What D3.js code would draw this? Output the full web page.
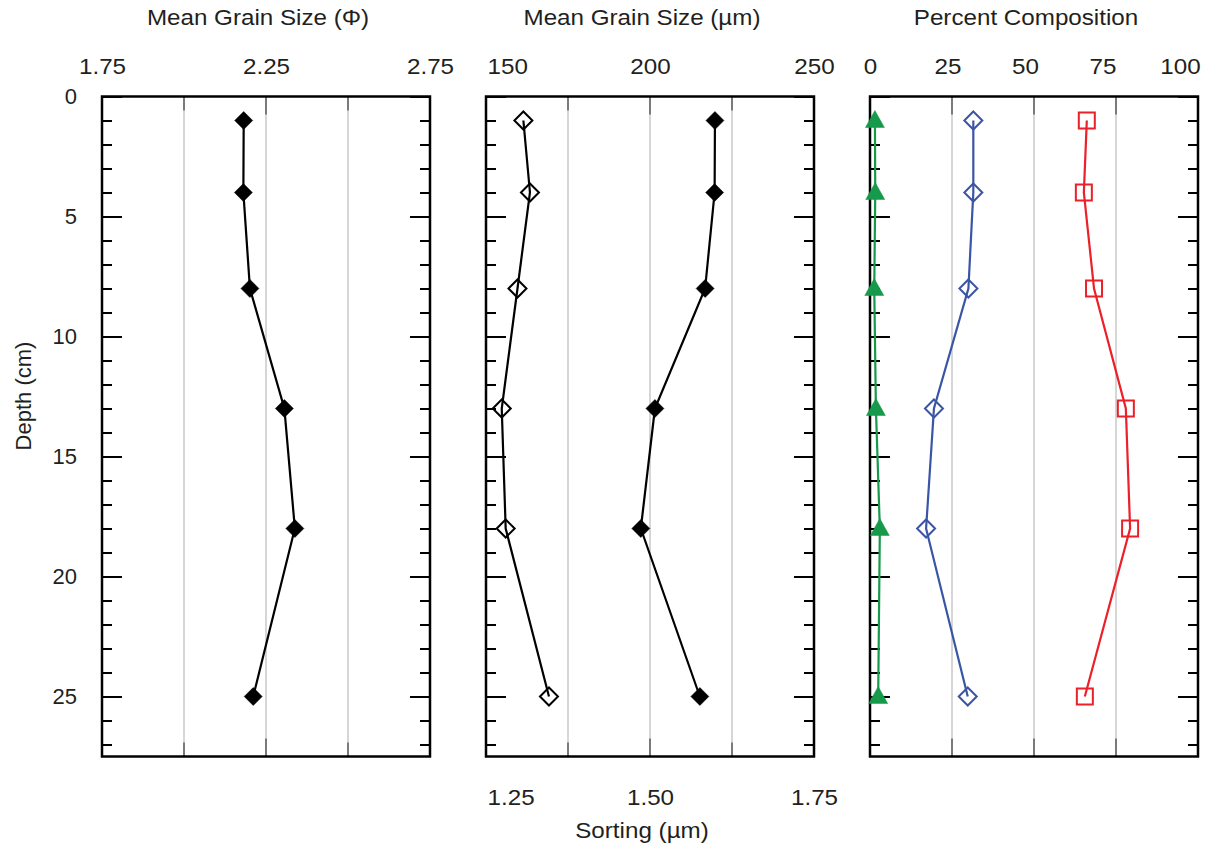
<!DOCTYPE html>
<html><head><meta charset="utf-8">
<script src="https://cdn.jsdelivr.net/npm/d3@7"></script>
<style>
html,body{margin:0;padding:0;background:#fff;}
text{font-family:"Liberation Sans",Arial,sans-serif;fill:#231f20;}
</style></head>
<body>
<svg id="chart" width="1207" height="852"></svg>
<script>
// ---- data ----
const depths = [1, 4, 8, 13, 18, 25];
const meanPhi = [2.182, 2.181, 2.201, 2.306, 2.338, 2.211];
const meanUm = [219.8, 219.7, 216.8, 201.5, 197.2, 215.2];
const sortingUm = [1.307, 1.317, 1.298, 1.274, 1.280, 1.346];
const pctGreen = [1.5, 1.6, 1.3, 1.8, 3.0, 2.5];
const pctBlue = [31.5, 31.5, 30.0, 19.5, 17.1, 29.8];
const pctRed = [66.1, 65.2, 68.3, 78.0, 79.3, 65.5];

const phiTickLabels = [1.75, 2.25, 2.75];
const phiGrid = [2.0, 2.25, 2.5];
const umTickLabels = [150, 200, 250];
const umGrid = [175, 200, 225];
const sortTickLabels = [1.25, 1.50, 1.75];
const pctTickLabels = [0, 25, 50, 75, 100];
const pctGrid = [25, 50, 75];
const depthMajor = [0, 5, 10, 15, 20, 25];
const depthMinor = d3.range(1, 28).filter(d => d % 5 !== 0);

const titles = ["Mean Grain Size (\u03A6)", "Mean Grain Size (\u00B5m)", "Percent Composition"];

// ---- layout ----
const svg = d3.select("#chart");
const yTop = 96.5, yBot = 756.5;
const y = d3.scaleLinear().domain([0, 27.5]).range([yTop, yBot]);
const panelLefts = [102, 486, 870];
const W = 328;
const SX = 1.1; // horizontal glyph stretch
const FONT = "Liberation Sans, Arial, sans-serif";

const x1 = d3.scaleLinear().domain([1.75, 2.75]).range([panelLefts[0], panelLefts[0] + W]);
const x2 = d3.scaleLinear().domain([150, 250]).range([panelLefts[1], panelLefts[1] + W]);
const x2b = d3.scaleLinear().domain([1.25, 1.75]).range([panelLefts[1], panelLefts[1] + W]);
const x3 = d3.scaleLinear().domain([0, 100]).range([panelLefts[2], panelLefts[2] + W]);
// label placement scale for the percent axis (labels are compressed to fit the page)
const x3lab = d3.scaleLinear().domain([0, 100]).range([panelLefts[2], panelLefts[2] + 310]);

function labelAxis(x, vals, fmt, yy, startFirst){
  const a = svg.append("g").attr("transform", `translate(0,${yy})`)
    .call(d3.axisTop(x).tickValues(vals).tickSize(0).tickPadding(0).tickFormat(fmt));
  a.select(".domain").remove();
  a.selectAll("line").remove();
  a.selectAll("text").attr("font-size", 22).attr("font-family", FONT).attr("fill", "#231f20")
    .attr("transform", `scale(${SX},1)`)
    .attr("text-anchor", (d, i) => (startFirst && i === 0) ? "start" : "middle")
    .attr("x", (d, i) => (startFirst && i === 0) ? 1 : 0);
}

function panelFrame(x, gridVals, longVals, showYLabels){
  const g = svg.append("g");
  g.selectAll(".grid").data(gridVals).join("line")
    .attr("x1", d => x(d)).attr("x2", d => x(d))
    .attr("y1", yTop).attr("y2", yBot)
    .attr("stroke", "#c9c9c9").attr("stroke-width", 1.5);
  const tickLen = d => longVals.includes(d) ? 18 : 14;
  g.selectAll(".tt").data(gridVals).join("line")
    .attr("x1", d => x(d)).attr("x2", d => x(d))
    .attr("y1", yTop).attr("y2", d => yTop + tickLen(d))
    .attr("stroke", "#7a7a7a").attr("stroke-width", 2);
  g.selectAll(".tb").data(gridVals).join("line")
    .attr("x1", d => x(d)).attr("x2", d => x(d))
    .attr("y1", yBot).attr("y2", d => yBot - tickLen(d))
    .attr("stroke", "#7a7a7a").attr("stroke-width", 2);

  const x0 = x.range()[0], xr = x.range()[1];
  const specs = [
    [d3.axisLeft, x0, depthMajor, -20],
    [d3.axisLeft, x0, depthMinor, -10],
    [d3.axisRight, xr, depthMajor, -20],
    [d3.axisRight, xr, depthMinor, -10]
  ];
  specs.forEach(([ax, xp, vals, sz]) => {
    const a = g.append("g").attr("transform", `translate(${xp},0)`)
      .call(ax(y).tickValues(vals).tickSizeInner(sz).tickSizeOuter(0).tickFormat(""));
    a.select(".domain").remove();
    a.selectAll("line").attr("stroke", "#000").attr("stroke-width", 2);
    a.selectAll("text").remove();
  });
  if (showYLabels){
    const a = g.append("g").attr("transform", `translate(${x0},0)`)
      .call(d3.axisLeft(y).tickValues(depthMajor).tickSize(0).tickPadding(25).tickFormat(d3.format("d")));
    a.select(".domain").remove();
    a.selectAll("line").remove();
    a.selectAll("text").attr("font-size", 22).attr("font-family", FONT).attr("fill", "#231f20");
  }
}

function frameRect(x){
  const [a, b] = x.range();
  svg.append("rect").attr("x", a).attr("y", yTop).attr("width", b - a).attr("height", yBot - yTop)
    .attr("fill", "none").attr("stroke", "#000").attr("stroke-width", 2.5);
}

function markerPath(m){
  if (m === "diamond") return "M0,-9L9,0L0,9L-9,0Z";
  if (m === "square") return "M-8,-8H8V8H-8Z";
  return "M0,-10L9.5,7H-9.5Z";
}
function drawSeries(x, vals, color, marker, filled){
  const pts = depths.map((d, i) => [x(vals[i]), y(d)]);
  svg.append("path").attr("d", d3.line()(pts)).attr("fill", "none")
    .attr("stroke", color).attr("stroke-width", 2.2);
  svg.append("g").selectAll("path").data(pts).join("path")
    .attr("d", markerPath(marker))
    .attr("transform", p => `translate(${p[0]},${p[1]})`)
    .attr("fill", filled ? color : "none").attr("stroke", color)
    .attr("stroke-width", filled ? 0.5 : 2);
}

panelFrame(x1, phiGrid, [2.25], true);
panelFrame(x2, umGrid, [200], false);
panelFrame(x3, pctGrid, [25, 50, 75], false);

labelAxis(x1, phiTickLabels, d3.format(".2f"), 74, false);
labelAxis(x2, umTickLabels, d3.format("d"), 74, true);
labelAxis(x2b, sortTickLabels, d3.format(".2f"), 805, true);
labelAxis(x3lab, pctTickLabels, d3.format("d"), 74, false);

frameRect(x1); frameRect(x2); frameRect(x3);

drawSeries(x1, meanPhi, "#000", "diamond", true);
drawSeries(x2b, sortingUm, "#000", "diamond", false);
drawSeries(x2, meanUm, "#000", "diamond", true);
drawSeries(x3, pctGreen, "#16994a", "triangle", true);
drawSeries(x3, pctBlue, "#3b55a6", "diamond", false);
drawSeries(x3, pctRed, "#ec2028", "square", false);

const centers = panelLefts.map(l => l + W / 2 - 8);
titles.forEach((t, i) => {
  svg.append("text").attr("transform", `translate(${centers[i]},25) scale(${SX},1)`)
    .attr("text-anchor", "middle").attr("font-size", 22).text(t);
});
svg.append("text").attr("transform", `translate(${centers[1]},838) scale(${SX},1)`)
  .attr("text-anchor", "middle").attr("font-size", 22).text("Sorting (\u00B5m)");
svg.append("text").attr("transform", `translate(31,396) rotate(-90)`)
  .attr("text-anchor", "middle").attr("font-size", 22).text("Depth (cm)");
</script>
</body></html>
